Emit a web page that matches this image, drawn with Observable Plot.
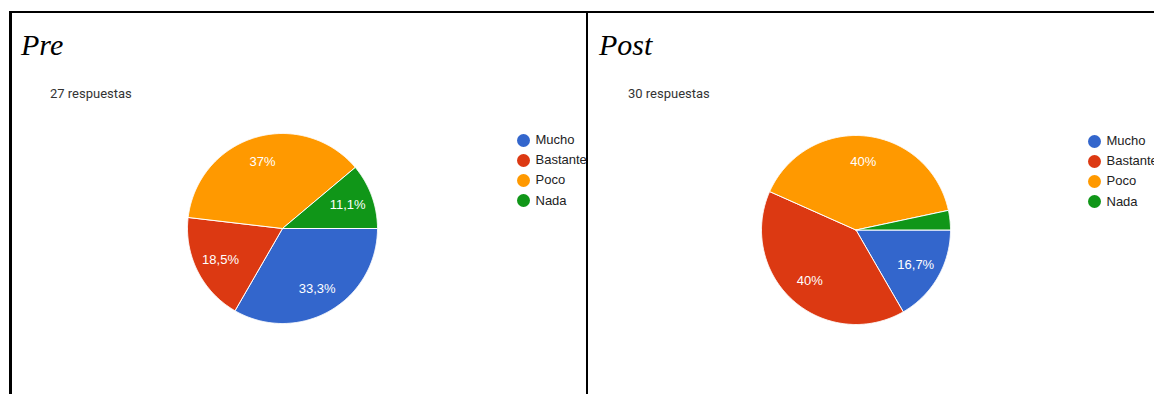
<!DOCTYPE html>
<html>
<head>
<meta charset="utf-8">
<script src="https://cdn.jsdelivr.net/npm/d3@7"></script>
<script src="https://cdn.jsdelivr.net/npm/@observablehq/plot@0.6"></script>
<style>
  html, body { margin: 0; padding: 0; background: #fff; }
  #root { position: relative; width: 1154px; height: 394px; overflow: hidden; background: #fff; }
  .bar { position: absolute; background: #000; }
  .title { position: absolute; font-family: "Liberation Serif", "Times New Roman", serif; font-style: italic; font-size: 30px; line-height: 30px; color: #000; white-space: nowrap; }
  .count { position: absolute; font-family: Roboto, Arial, sans-serif; font-size: 13px; line-height: 13px; color: #333; white-space: nowrap; }
  .pie { position: absolute; }
  .legend { position: absolute; font-family: Arial, "Liberation Sans", sans-serif; font-size: 13px; color: #222; }
  .legend .row { position: absolute; left: 0; height: 14px; white-space: nowrap; }
  .legend .sw { position: absolute; left: 0; top: 0.5px; width: 13px; height: 13px; border-radius: 50%; }
  .legend .lab { position: absolute; left: 19px; top: 0; line-height: 14px; }
</style>
</head>
<body>
<div id="root"></div>
<script>
// ---- data ----
const categories = ["Mucho", "Bastante", "Poco", "Nada"];
const colors = ["#3366cc", "#dc3912", "#ff9900", "#109618"];
const titles = ["Pre", "Post"];
const preCounts = [9, 5, 10, 3];   // 27 respuestas
const postCounts = [5, 12, 12, 1]; // 30 respuestas

// ---- layout (pixels) ----
const panels = [
  {title: titles[0], counts: preCounts, titleX: 21, countX: 50, cx: 281.5, cy: 228, r: 95, legX: 516.5, legY: 133},
  {title: titles[1], counts: postCounts, titleX: 599, countX: 628, cx: 855, cy: 229, r: 94.5, legX: 1087.5, legY: 134}
];

const root = document.getElementById("root");
function addDiv(cls, style, text) {
  const d = document.createElement("div");
  d.className = cls;
  Object.assign(d.style, style);
  if (text != null) d.textContent = text;
  root.appendChild(d);
  return d;
}

// frame lines
addDiv("bar", {left: "9px", top: "10.5px", width: "1145px", height: "2.5px"});
addDiv("bar", {left: "9px", top: "10.5px", width: "2.5px", height: "384px"});
addDiv("bar", {left: "585.5px", top: "10.5px", width: "2px", height: "384px"});

const fmt = d3.format(".3~r");
const TAU = 2 * Math.PI;

for (const p of panels) {
  const total = d3.sum(p.counts);
  addDiv("title", {left: p.titleX + "px", top: "30px"}, p.title);
  addDiv("count", {left: p.countX + "px", top: "86.5px"}, total + " respuestas");

  const table = categories.map((c, i) => ({key: c, value: p.counts[i]}));
  // clockwise starting at 3 o'clock
  const arcs = d3.pie().sort(null).value(d => d.value)
    .startAngle(Math.PI / 2).endAngle(Math.PI / 2 + TAU)(table);

  const pts = [];
  for (const a of arcs) {
    const n = Math.max(2, Math.ceil((a.endAngle - a.startAngle) / (Math.PI / 360)));
    pts.push({key: a.data.key, x: 0, y: 0});
    for (let i = 0; i <= n; i++) {
      const t = a.startAngle + (a.endAngle - a.startAngle) * i / n;
      pts.push({key: a.data.key, x: Math.sin(t), y: Math.cos(t)});
    }
    pts.push({key: a.data.key, x: 0, y: 0});
  }
  const labels = arcs
    .filter(a => a.data.value / total >= 0.05)
    .map(a => {
      const m = (a.startAngle + a.endAngle) / 2;
      return {
        x: 0.73 * Math.sin(m), y: 0.73 * Math.cos(m),
        text: fmt(100 * a.data.value / total).replace(".", ",") + "%"
      };
    });

  const m = 2;
  const size = 2 * p.r + 2 * m;
  const chart = Plot.plot({
    width: size, height: size,
    margin: m,
    x: {domain: [-1, 1], axis: null},
    y: {domain: [-1, 1], axis: null},
    color: {type: "ordinal", domain: categories, range: colors},
    style: {background: "transparent", overflow: "visible"},
    marks: [
      Plot.line(pts, {x: "x", y: "y", z: "key", fill: "key", stroke: "white", strokeWidth: 1, strokeLinejoin: "round", curve: "linear"}),
      Plot.text(labels, {x: "x", y: "y", text: "text", fill: "white", fontSize: 13, fontFamily: "Arial, 'Liberation Sans', sans-serif"})
    ]
  });
  const holder = addDiv("pie", {left: (p.cx - p.r - m) + "px", top: (p.cy - p.r - m) + "px", width: size + "px", height: size + "px"});
  holder.appendChild(chart);

  // legend
  const leg = addDiv("legend", {left: p.legX + "px", top: p.legY + "px"});
  categories.forEach((c, i) => {
    const row = document.createElement("div");
    row.className = "row";
    row.style.top = (i * 20.2) + "px";
    const sw = document.createElement("span");
    sw.className = "sw";
    sw.style.background = colors[i];
    const lab = document.createElement("span");
    lab.className = "lab";
    lab.textContent = c;
    row.appendChild(sw); row.appendChild(lab);
    leg.appendChild(row);
  });
}
</script>
</body>
</html>
